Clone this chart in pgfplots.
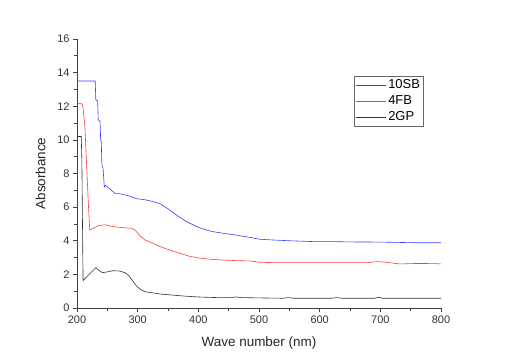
\documentclass[border=0pt]{standalone}
\usepackage{fontspec}
\setmainfont{Liberation Sans}
\usepackage{pgfplots}
\pgfplotsset{compat=1.18}
\definecolor{sbblue}{RGB}{60,60,255}
\definecolor{fbred}{RGB}{255,60,60}
\definecolor{gpgray}{RGB}{50,50,50}
\begin{document}
\begin{tikzpicture}
\path[use as bounding box] (0,0) rectangle (512bp,360bp);
\begin{axis}[
  at={(77bp,52bp)}, anchor=south west,
  scale only axis, width=364bp, height=269bp,
  xmin=200, xmax=800, ymin=0, ymax=16,
  axis x line*=bottom, axis y line*=left,
  axis line style={draw=black!75, line width=0.7pt, -},
  xtick={200,300,...,800}, ytick={0,2,...,16},
  minor x tick num=1, minor y tick num=1,
  tick align=outside,
  major tick length=4bp, minor tick length=2.5bp,
  tick style={black!75, line width=0.7pt},
  /pgf/number format/assume math mode=true,
  ticklabel style={font=\fontsize{11}{13}\selectfont, text=black!80},
  xlabel={Wave number (nm)}, ylabel={Absorbance},
  label style={font=\fontsize{13.5}{15}\selectfont, text=black!85},
  xlabel style={yshift=-7bp},
  ylabel style={yshift=5bp},
  legend style={at={(0.761,0.862)}, anchor=north west, draw=black!60,
    font=\fontsize{13}{15}\selectfont, inner sep=1.5pt, row sep=1.5pt},
  legend cell align=left,
  legend image code/.code={\draw[#1] (0cm,0cm) -- (30bp,0cm);},
  every axis plot/.append style={line width=0.6pt},
]
\addplot[sbblue] coordinates {
(200,13.5) (230,13.5) (231,12.4) (234,12.3) (235,11.2) (238,11.1) (239,10.0) (240,9.9)
(241,8.5) (243,8.3) (245,7.2) (247,7.3) (250,7.2) (255,7.05) (260,6.9) (263,6.8)
(270,6.8) (280,6.72) (290,6.62) (298,6.5) (310,6.45) (320,6.38) (337,6.2) (350,5.9)
(365,5.5) (380,5.15) (395,4.88) (403,4.76) (415,4.62) (424,4.54) (440,4.45)
(460,4.35) (485,4.2) (501,4.09) (520,4.05) (550,4.0) (589,3.95) (620,3.95)
(650,3.93) (700,3.92) (730,3.9) (760,3.88) (800,3.88)
};
\addlegendentry{10SB}
\addplot[fbred] coordinates {
(200,12.15) (208,12.15) (210,11.9) (213,10.8) (216,8.4) (219,6.0) (221,4.65)
(225,4.7) (235,4.9) (246,4.95) (258,4.85) (270,4.8) (280,4.77) (290,4.74)
(295,4.65) (299,4.5) (305,4.25) (312,4.05) (325,3.85) (337,3.65) (355,3.42)
(370,3.25) (385,3.08) (403,2.96) (420,2.9) (436,2.86) (460,2.82) (485,2.8)
(501,2.72) (523,2.7) (560,2.7) (600,2.7) (650,2.7) (680,2.7) (695,2.76)
(710,2.72) (732,2.62) (760,2.65) (790,2.64) (800,2.62)
};
\addlegendentry{4FB}
\addplot[gpgray] coordinates {
(200,10.2) (207,10.2) (208,8.8) (210,1.63) (220,2.0) (231,2.4) (236,2.25)
(242,2.1) (250,2.15) (260,2.22) (270,2.2) (279,2.1) (285,1.95) (290,1.7)
(295,1.45) (299,1.27) (305,1.1) (312,0.97) (325,0.9) (337,0.83) (360,0.76)
(380,0.7) (403,0.65) (430,0.62) (455,0.62) (462,0.66) (470,0.62) (501,0.6)
(540,0.58) (548,0.62) (556,0.58) (620,0.58) (628,0.62) (636,0.58) (690,0.58)
(697,0.63) (704,0.58) (760,0.58) (800,0.58)
};
\addlegendentry{2GP}
\end{axis}
\end{tikzpicture}
\end{document}
